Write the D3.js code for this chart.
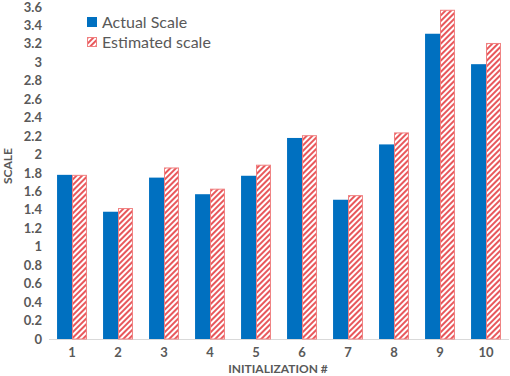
<!DOCTYPE html>
<html>
<head>
<meta charset="utf-8" />
<script src="https://d3js.org/d3.v7.min.js"></script>
<style>
  body { margin: 0; background: #fff; }
  text { font-family: Lato, "Open Sans", sans-serif; fill: #595959; }
</style>
</head>
<body>
<div id="chart"></div>
<script>
// data
var runs = ["1", "2", "3", "4", "5", "6", "7", "8", "9", "10"];
var actualScale = [1.78, 1.38, 1.75, 1.57, 1.77, 2.18, 1.51, 2.11, 3.31, 2.98];
var estimatedScale = [1.78, 1.42, 1.86, 1.63, 1.89, 2.21, 1.56, 2.24, 3.57, 3.21];
var yTicks = d3.range(0, 3.61, 0.2);
var seriesNames = ["Actual Scale", "Estimated scale"];

var width = 510, height = 376;
var margin = { top: 7, right: 1, bottom: 37, left: 49 };
var innerW = width - margin.left - margin.right,
    innerH = height - margin.top - margin.bottom;

var svg = d3.select("#chart").append("svg")
  .attr("width", width)
  .attr("height", height);

// hatch pattern for the estimated series
var defs = svg.append("defs");
var pat = defs.append("pattern")
  .attr("id", "hatch")
  .attr("patternUnits", "userSpaceOnUse")
  .attr("width", 4).attr("height", 4)
  .attr("patternTransform", "rotate(45)");
pat.append("rect").attr("width", 4).attr("height", 4).attr("fill", "#fff");
pat.append("rect").attr("width", 2).attr("height", 4).attr("fill", "#e8585c");

var g = svg.append("g")
  .attr("transform", "translate(" + margin.left + "," + margin.top + ")");

var x = d3.scaleBand().domain(runs).range([0, innerW]).paddingInner(0.35).paddingOuter(0.175);
var xs = d3.scaleBand().domain([0, 1]).range([0, x.bandwidth()]);
var y = d3.scaleLinear().domain([0, 3.6]).range([innerH, 0]);

// y tick labels (no axis line)
g.selectAll(".ytick")
  .data(yTicks).enter()
  .append("text")
  .attr("class", "ytick")
  .attr("x", -7)
  .attr("y", function (d) { return y(d); })
  .attr("dy", "0.35em")
  .attr("text-anchor", "end")
  .style("font-size", "13px")
  .style("font-weight", "bold")
  .text(function (d) { return +d.toFixed(1); });

// baseline
g.append("line")
  .attr("x1", 0).attr("x2", innerW)
  .attr("y1", y(0) + 0.5).attr("y2", y(0) + 0.5)
  .attr("stroke", "#d9d9d9");

var groups = g.selectAll(".grp")
  .data(runs).enter()
  .append("g")
  .attr("transform", function (d) { return "translate(" + x(d) + ",0)"; });

groups.append("rect")
  .attr("x", xs(0))
  .attr("width", xs.bandwidth())
  .attr("y", function (d, i) { return y(actualScale[i]); })
  .attr("height", function (d, i) { return y(0) - y(actualScale[i]); })
  .attr("fill", "#0070c0");

groups.append("rect")
  .attr("x", xs(1) + 0.5)
  .attr("width", xs.bandwidth() - 1)
  .attr("y", function (d, i) { return y(estimatedScale[i]) + 0.5; })
  .attr("height", function (d, i) { return y(0) - y(estimatedScale[i]) - 0.5; })
  .attr("fill", "url(#hatch)")
  .attr("stroke", "#f08080")
  .attr("stroke-width", 1);

// x tick labels
g.selectAll(".xtick")
  .data(runs).enter()
  .append("text")
  .attr("x", function (d) { return x(d) + x.bandwidth() / 2; })
  .attr("y", innerH + 13)
  .attr("dy", "0.35em")
  .attr("text-anchor", "middle")
  .style("font-size", "13px")
  .style("font-weight", "bold")
  .text(function (d) { return d; });

// axis titles
svg.append("text")
  .attr("x", 278).attr("y", 369)
  .attr("dy", "0.35em")
  .attr("text-anchor", "middle")
  .style("font-size", "12px")
  .style("font-weight", "bold")
  .text("INITIALIZATION #");

svg.append("text")
  .attr("transform", "translate(8,166) rotate(-90)")
  .attr("dy", "0.35em")
  .attr("text-anchor", "middle")
  .style("font-size", "12px")
  .style("font-weight", "bold")
  .text("SCALE");

// legend
var legend = svg.append("g").attr("transform", "translate(87,17)");
var items = legend.selectAll(".item")
  .data(seriesNames).enter()
  .append("g")
  .attr("transform", function (d, i) { return "translate(0," + i * 20 + ")"; });
items.append("rect")
  .attr("x", 0.5).attr("y", 0.5)
  .attr("width", 9).attr("height", 9)
  .attr("fill", function (d, i) { return i === 0 ? "#0070c0" : "url(#hatch)"; })
  .attr("stroke", function (d, i) { return i === 0 ? "#0070c0" : "#f08080"; });
items.append("text")
  .attr("x", 15).attr("y", 5)
  .attr("dy", "0.35em")
  .style("font-size", "16px")
  .text(function (d) { return d; });
</script>
</body>
</html>
